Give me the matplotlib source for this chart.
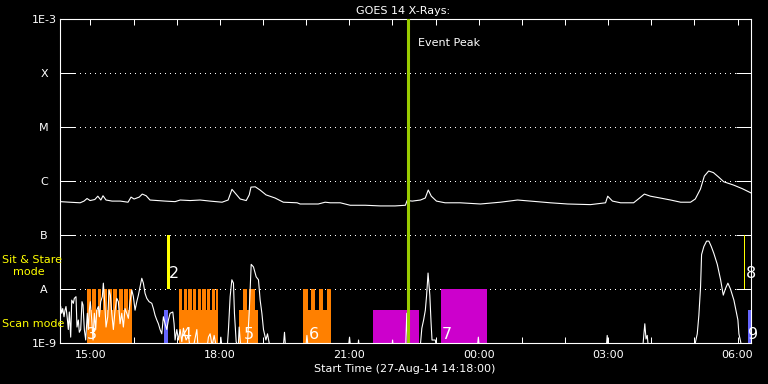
import matplotlib
matplotlib.use('Agg')
import matplotlib.pyplot as plt
import matplotlib.transforms as mtransforms
from matplotlib.ticker import NullLocator, FixedLocator

plt.rcParams['font.family'] = ['DejaVu Sans']
plt.rcParams['font.size'] = 8

# time axis in hours since 27-Aug-14 00:00
t_start, t_end = 14.3, 30.3
xtick_hours = [15, 18, 21, 24, 27, 30]
xtick_labels = ['15:00', '18:00', '21:00', '00:00', '03:00', '06:00']
hour_ticks = list(range(15, 31))

level_flux = [1e-9, 1e-8, 1e-7, 1e-6, 1e-5, 1e-4, 1e-3]
level_labels = ['1E-9', 'A', 'B', 'C', 'M', 'X', '1E-3']

# GOES 14 long channel (1-8 A)
long_t = [14.30, 14.52, 14.76, 14.85, 14.92, 14.99, 15.10, 15.17, 15.24, 15.29,
          15.36, 15.50, 15.69, 15.87, 15.94, 16.01, 16.13, 16.20, 16.29, 16.38,
          16.73, 16.96, 17.08, 17.31, 17.54, 17.77, 18.05, 18.19, 18.28, 18.35,
          18.47, 18.61, 18.68, 18.72, 18.82, 18.93, 19.07, 19.28, 19.47, 19.79,
          19.86, 20.28, 20.44, 20.56, 20.79, 21.02, 21.37, 21.72, 22.06, 22.30,
          22.34, 22.46, 22.65, 22.76, 22.83, 22.90, 23.02, 23.22, 23.57, 24.04,
          24.50, 24.90, 25.20, 25.66, 26.06, 26.59, 26.94, 26.99, 27.10, 27.29,
          27.59, 27.70, 27.84, 27.98, 28.21, 28.45, 28.68, 28.91, 29.02, 29.14,
          29.23, 29.33, 29.44, 29.56, 29.68, 29.91, 30.11, 30.31]
long_flux = [4.2e-7, 4.1e-7, 4.0e-7, 4.3e-7, 4.8e-7, 4.4e-7, 4.6e-7, 5.3e-7, 4.5e-7, 5.4e-7,
             4.5e-7, 4.3e-7, 4.3e-7, 4.1e-7, 5.1e-7, 4.7e-7, 5.1e-7, 5.8e-7, 5.4e-7, 4.5e-7,
             4.3e-7, 4.2e-7, 4.5e-7, 4.4e-7, 4.5e-7, 4.3e-7, 4.1e-7, 4.5e-7, 7.1e-7, 6.1e-7,
             4.7e-7, 4.4e-7, 5.6e-7, 7.8e-7, 7.9e-7, 6.9e-7, 5.6e-7, 4.9e-7, 4.1e-7, 4.0e-7,
             3.8e-7, 3.8e-7, 4.1e-7, 4.0e-7, 4.0e-7, 3.6e-7, 3.6e-7, 3.5e-7, 3.5e-7, 3.6e-7,
             4.4e-7, 4.3e-7, 4.5e-7, 4.9e-7, 6.9e-7, 5.3e-7, 4.3e-7, 4.0e-7, 4.0e-7, 3.8e-7,
             4.1e-7, 4.5e-7, 4.3e-7, 4.0e-7, 3.8e-7, 3.7e-7, 4.0e-7, 5.3e-7, 4.3e-7, 4.0e-7,
             4.0e-7, 4.7e-7, 5.8e-7, 5.3e-7, 4.9e-7, 4.5e-7, 4.1e-7, 4.1e-7, 4.7e-7, 7.2e-7,
             1.25e-6, 1.55e-6, 1.45e-6, 1.2e-6, 9.8e-7, 8.5e-7, 7.3e-7, 6.1e-7]

# GOES 14 short channel (0.5-4 A)
short_t = [14.309, 14.332, 14.356, 14.386, 14.409, 14.432, 14.462, 14.486, 14.509, 14.541,
           14.565, 14.602, 14.625, 14.664, 14.687, 14.718, 14.741, 14.773, 14.803, 14.827,
           14.857, 14.889, 14.926, 14.950, 14.973, 14.996, 15.029, 15.059, 15.089, 15.121,
           15.145, 15.182, 15.205, 15.237, 15.274, 15.298, 15.330, 15.360, 15.400, 15.430,
           15.460, 15.493, 15.530, 15.569, 15.609, 15.646, 15.685, 15.725, 15.762, 15.801,
           15.841, 15.878, 15.917, 15.957, 15.994, 16.033, 16.073, 16.110, 16.149, 16.189,
           16.226, 16.265, 16.305, 16.358, 16.421, 16.458, 16.497, 16.537, 16.574, 16.613,
           16.652, 16.690, 16.729, 16.769, 16.806, 16.845, 16.908, 16.938, 16.961, 17.001,
           17.038, 17.077, 17.117, 17.154, 17.216, 17.270, 17.309, 17.379, 17.465, 17.495,
           17.700, 17.734, 17.773, 17.820, 17.866, 17.912, 18.000, 18.022, 18.052, 18.168,
           18.198, 18.237, 18.277, 18.314, 18.337, 18.377, 18.423, 18.446, 18.481, 18.632,
           18.678, 18.725, 18.778, 18.841, 18.894, 18.933, 18.973, 19.010, 19.066, 19.103,
           19.166, 19.467, 19.497, 19.525, 19.990, 20.017, 20.047, 20.975, 21.005, 21.033,
           21.195, 21.214, 21.233, 21.985, 22.003, 22.021, 22.305, 22.332, 22.359, 22.640,
           22.681, 22.722, 22.762, 22.792, 22.825, 22.866, 22.894, 22.917, 22.994, 23.020,
           23.965, 23.991, 24.017, 26.955, 26.978, 27.001, 27.800, 27.850, 27.878, 27.906,
           27.935, 29.000, 29.026, 29.066, 29.103, 29.142, 29.166, 29.219, 29.282, 29.335,
           29.391, 29.451, 29.530, 29.607, 29.669, 29.722, 29.776, 29.838, 29.915, 29.977,
           30.008, 30.031, 30.071, 30.100, 30.300]
short_flux = [4.8e-9, 3.6e-9, 4.4e-9, 3.1e-9, 4.1e-9, 4.8e-9, 2.9e-9, 1.8e-9, 3.8e-9, 1.3e-9,
              6.3e-9, 5.5e-9, 6.8e-9, 7.3e-9, 2.0e-9, 2.7e-9, 1.6e-9, 1.8e-9, 5.9e-9, 5.1e-9,
              1.8e-9, 1.15e-9, 3.6e-9, 1.8e-9, 4.1e-9, 5.9e-9, 2.7e-9, 1.15e-9, 3.6e-9, 1.8e-9,
              4.1e-9, 4.8e-9, 3.1e-9, 5.9e-9, 7.3e-9, 1.3e-8, 5.5e-9, 2.0e-9, 3.1e-9, 9.7e-9,
              7.8e-9, 3.6e-9, 1.8e-9, 4.1e-9, 6.8e-9, 5.9e-9, 2.3e-9, 3.6e-9, 2.0e-9, 4.4e-9,
              3.6e-9, 2.9e-9, 5.9e-9, 9.7e-9, 7.3e-9, 4.1e-9, 5.9e-9, 7.8e-9, 1.1e-8, 1.6e-8,
              1.3e-8, 8.4e-9, 6.8e-9, 5.9e-9, 5.5e-9, 4.4e-9, 3.3e-9, 2.7e-9, 2.3e-9, 1.8e-9,
              1.5e-9, 3.1e-9, 2.3e-9, 1.8e-9, 2.7e-9, 3.6e-9, 3.8e-9, 2.3e-9, 1.15e-9, 1.8e-9,
              1.15e-9, 1.8e-9, 1.07e-9, 1.9e-9, 1.15e-9, 1.4e-9, 8e-10, 8e-10, 1.8e-9, 8e-10,
              8e-10, 1.3e-9, 1.5e-9, 9e-10, 1.4e-9, 9e-10, 8e-10, 1.3e-9, 8e-10, 8e-10,
              1.8e-9, 7.3e-9, 1.5e-8, 1.3e-8, 3.6e-9, 1.07e-9, 8e-10, 2.0e-9, 9e-10, 8e-10,
              3.6e-9, 2.9e-8, 2.6e-8, 1.7e-8, 1.5e-8, 6.3e-9, 3.6e-9, 1.8e-9, 1.15e-9, 1.5e-9,
              8e-10, 8e-10, 1.6e-9, 8e-10, 8e-10, 1.4e-9, 8e-10, 8e-10, 1.3e-9, 8e-10,
              8e-10, 1.15e-9, 8e-10, 8e-10, 1.15e-9, 8e-10, 8e-10, 3.6e-9, 8e-10, 8e-10,
              1.9e-9, 2.7e-9, 4.1e-9, 7.8e-9, 2.0e-8, 7.8e-9, 2.5e-9, 1.15e-9, 1.15e-9, 8e-10,
              8e-10, 1.3e-9, 8e-10, 8e-10, 1.4e-9, 8e-10, 8e-10, 2.3e-9, 1.2e-9, 1.4e-9,
              8e-10, 8e-10, 1.07e-9, 1.5e-9, 3.3e-9, 1.1e-8, 4.4e-8, 6.2e-8, 7.8e-8, 7.8e-8,
              6.2e-8, 4.6e-8, 2.9e-8, 1.5e-8, 7.8e-9, 1.04e-8, 1.3e-8, 1.0e-8, 6.3e-9, 3.6e-9,
              2.7e-9, 1.5e-9, 1.07e-9, 8e-10, 8e-10]

# IRIS scan-mode rasters (orange): block extent and individual rasters
scan_start = [14.913, 17.054, 18.446, 19.931]
scan_end = [15.971, 17.966, 18.894, 20.574]
raster_start = [14.913, 15.036, 15.168, 15.283, 15.413, 15.530, 15.655, 15.778, 15.902,
                17.054, 17.163, 17.269, 17.378, 17.487, 17.594, 17.703, 17.812, 17.919,
                18.545, 18.678,
                19.931, 20.117, 20.295, 20.472]
raster_end = [15.006, 15.136, 15.251, 15.383, 15.499, 15.622, 15.748, 15.871, 15.971,
              17.130, 17.239, 17.348, 17.455, 17.564, 17.673, 17.780, 17.889, 17.966,
              18.631, 18.817,
              20.047, 20.209, 20.395, 20.574]
# magenta observations
mag_start = [21.555, 23.132]
mag_end = [22.622, 24.199]
mag_top = [4.1e-9, 1e-8]
# blue observations
blue_start = [16.713, 30.233]
blue_end = [16.792, 30.314]
# sit & stare (yellow)
sns_start = [16.776, 30.140]
sns_end = [16.845, 30.162]

obs_labels = ['2', '3', '4', '5', '6', '7', '8', '9']
obs_label_t = [16.806, 14.926, 17.10, 18.56, 20.07, 23.15, 30.19, 30.245]
obs_label_flux = [1.64e-8, 1.18e-9, 1.18e-9, 1.18e-9, 1.18e-9, 1.18e-9, 1.64e-8, 1.18e-9]

peak_t = 22.367
base_flux = 1e-9
scan_base_top = 4.1e-9

W, H = 768, 384
fig = plt.figure(figsize=(W / 100, H / 100), dpi=100, facecolor='black')
ax = fig.add_axes([60.3 / W, 1 - 343.3 / H, 690.2 / W, 324.0 / H], facecolor='black')
ax.set_yscale('log')
ax.set_xlim(t_start, t_end)
ax.set_ylim(1e-9, 1e-3)

for lev in level_flux[1:-1]:
    ax.axhline(lev, color='white', lw=0.72, ls=(0, (1, 5)), zorder=1, antialiased=False)


def block(s, e, bottom, top, color):
    ax.bar(s, top - bottom, width=e - s, bottom=bottom, align='edge',
           color=color, lw=0, zorder=2, antialiased=False)


orange = '#ff8000'
for s, e in zip(scan_start, scan_end):
    block(s, e, base_flux, scan_base_top, orange)
for s, e in zip(raster_start, raster_end):
    block(s, e, base_flux, 1e-8, orange)
for s, e, top in zip(mag_start, mag_end, mag_top):
    block(s, e, base_flux, top, '#cc00cc')
for s, e in zip(blue_start, blue_end):
    block(s, e, base_flux, scan_base_top, '#6666ff')
for s, e in zip(sns_start, sns_end):
    block(s, e, 1e-8, 1e-7, '#ffff00')

ax.plot(long_t, long_flux, color='white', lw=0.8, zorder=3)
ax.plot(short_t, short_flux, color='white', lw=0.8, zorder=3)

ax.axvline(peak_t, color='#99cc00', lw=2.2, zorder=4)
trans = mtransforms.blended_transform_factory(ax.transData, ax.transAxes)
ax.text(peak_t + 0.23, 0.918, 'Event Peak', color='white', fontsize=8,
        transform=trans, ha='left', va='baseline', zorder=5)

for txt, t, f in zip(obs_labels, obs_label_t, obs_label_flux):
    ax.text(t, f, txt, color='white', fontsize=11.5, ha='left', va='baseline', zorder=5)

# axes styling
for sp in ax.spines.values():
    sp.set_color('white')
    sp.set_linewidth(0.8)
ax.set_yticks(level_flux)
ax.set_yticklabels(level_labels)
ax.yaxis.set_minor_locator(NullLocator())
ax.tick_params(axis='y', which='major', direction='in', length=10.8, width=0.72,
               colors='white', left=True, right=True, pad=11.7, labelsize=8)
for lbl in ax.get_yticklabels():
    lbl.set_ha('center')
ax.set_xticks(xtick_hours)
ax.set_xticklabels(xtick_labels)
ax.xaxis.set_minor_locator(FixedLocator(hour_ticks))
ax.tick_params(axis='x', which='both', direction='in', length=4.3, width=0.72,
               colors='white', top=True, bottom=True, pad=5, labelsize=8)

fig.text(403 / W, 1 - 14 / H, 'GOES 14 X-Rays:', color='white', fontsize=8,
         ha='center', va='baseline')
fig.text(404.7 / W, 1 - 371.7 / H, 'Start Time (27-Aug-14 14:18:00)', color='white',
         fontsize=8, ha='center', va='baseline')
fig.text(2 / W, 1 - 263 / H, 'Sit & Stare', color='#ffff00', fontsize=8, ha='left', va='baseline')
fig.text(13 / W, 1 - 275 / H, 'mode', color='#ffff00', fontsize=8, ha='left', va='baseline')
fig.text(2 / W, 1 - 327 / H, 'Scan mode', color='#ffff00', fontsize=8, ha='left', va='baseline')

fig.savefig('out.png', dpi=100, facecolor='black')
